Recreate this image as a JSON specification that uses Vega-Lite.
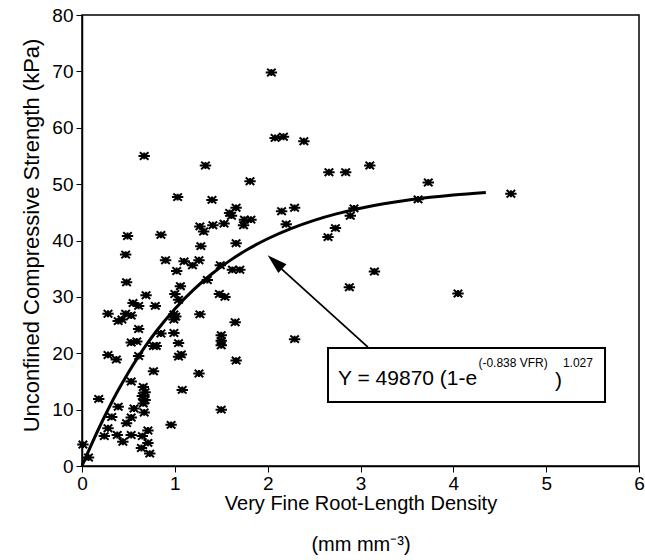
{
  "$schema": "https://vega.github.io/schema/vega-lite/v6.json",
  "width": 557,
  "height": 451,
  "autosize": "none",
  "padding": {"left": 82, "top": 15, "right": 6, "bottom": 94},
  "background": "white",
  "config": {
    "font": "Liberation Sans",
    "view": {"stroke": "black", "strokeWidth": 1.5},
    "axis": {
      "grid": false,
      "domainColor": "black",
      "domainWidth": 1.5,
      "tickColor": "black",
      "tickSize": 6,
      "labelColor": "black",
      "labelFontSize": 19,
      "titleColor": "black",
      "titleFontSize": 20,
      "titleFontWeight": "normal"
    }
  },
  "datasets": {
    "pts": [
      {"x": 2.04, "y": 69.8}, {"x": 2.08, "y": 58.2}, {"x": 2.17, "y": 58.4}, {"x": 2.39, "y": 57.6},
      {"x": 0.67, "y": 55.0}, {"x": 1.33, "y": 53.3}, {"x": 3.10, "y": 53.3}, {"x": 2.66, "y": 52.1},
      {"x": 2.84, "y": 52.1}, {"x": 1.81, "y": 50.5}, {"x": 3.73, "y": 50.3}, {"x": 4.62, "y": 48.3},
      {"x": 1.03, "y": 47.7}, {"x": 1.40, "y": 47.2}, {"x": 3.62, "y": 47.3}, {"x": 2.93, "y": 45.7},
      {"x": 2.29, "y": 45.8}, {"x": 2.15, "y": 45.2}, {"x": 2.89, "y": 44.4}, {"x": 1.66, "y": 45.8},
      {"x": 1.59, "y": 44.9}, {"x": 1.61, "y": 44.4}, {"x": 1.53, "y": 43.0}, {"x": 1.75, "y": 43.7},
      {"x": 1.82, "y": 43.7}, {"x": 1.74, "y": 42.7}, {"x": 1.41, "y": 42.7}, {"x": 1.27, "y": 42.5},
      {"x": 1.31, "y": 41.6}, {"x": 2.20, "y": 42.9}, {"x": 2.73, "y": 42.2}, {"x": 2.65, "y": 40.6},
      {"x": 0.49, "y": 40.8}, {"x": 0.85, "y": 41.0}, {"x": 1.28, "y": 39.0}, {"x": 1.66, "y": 39.5},
      {"x": 0.47, "y": 37.5}, {"x": 0.90, "y": 36.5}, {"x": 1.10, "y": 36.3}, {"x": 1.26, "y": 36.5},
      {"x": 1.19, "y": 35.6}, {"x": 1.02, "y": 34.6}, {"x": 1.49, "y": 35.6}, {"x": 1.62, "y": 34.8},
      {"x": 1.70, "y": 34.8}, {"x": 3.15, "y": 34.5}, {"x": 1.35, "y": 33.0}, {"x": 0.48, "y": 32.6},
      {"x": 1.06, "y": 31.9}, {"x": 2.88, "y": 31.7}, {"x": 1.00, "y": 30.5}, {"x": 0.69, "y": 30.3},
      {"x": 1.48, "y": 30.5}, {"x": 1.54, "y": 30.0}, {"x": 4.05, "y": 30.6}, {"x": 1.04, "y": 29.5},
      {"x": 0.55, "y": 28.9}, {"x": 0.61, "y": 28.4}, {"x": 0.79, "y": 28.4}, {"x": 0.28, "y": 27.0},
      {"x": 0.47, "y": 27.0}, {"x": 0.53, "y": 26.7}, {"x": 1.27, "y": 26.9}, {"x": 0.39, "y": 25.7},
      {"x": 0.43, "y": 26.0}, {"x": 0.99, "y": 26.9}, {"x": 1.01, "y": 26.5}, {"x": 0.99, "y": 26.0},
      {"x": 1.65, "y": 25.5}, {"x": 0.61, "y": 24.3}, {"x": 0.85, "y": 23.5}, {"x": 0.99, "y": 23.6},
      {"x": 1.50, "y": 23.2}, {"x": 1.50, "y": 22.2}, {"x": 2.29, "y": 22.5}, {"x": 0.53, "y": 21.9},
      {"x": 0.59, "y": 22.1}, {"x": 1.04, "y": 21.8}, {"x": 0.77, "y": 21.3}, {"x": 0.80, "y": 21.3},
      {"x": 1.50, "y": 21.4}, {"x": 0.28, "y": 19.7}, {"x": 0.37, "y": 18.9}, {"x": 0.61, "y": 19.5},
      {"x": 1.04, "y": 19.4}, {"x": 1.07, "y": 19.8}, {"x": 1.66, "y": 18.7}, {"x": 0.77, "y": 16.8},
      {"x": 1.26, "y": 16.4}, {"x": 0.53, "y": 15.0}, {"x": 0.18, "y": 11.9}, {"x": 0.66, "y": 14.0},
      {"x": 0.68, "y": 13.1}, {"x": 0.65, "y": 12.4}, {"x": 0.68, "y": 11.7}, {"x": 0.66, "y": 11.1},
      {"x": 1.08, "y": 13.5}, {"x": 0.39, "y": 10.5}, {"x": 0.56, "y": 10.2}, {"x": 1.50, "y": 10.0},
      {"x": 0.67, "y": 9.5}, {"x": 0.32, "y": 8.7}, {"x": 0.53, "y": 8.6}, {"x": 0.48, "y": 7.6},
      {"x": 0.96, "y": 7.3}, {"x": 0.28, "y": 6.7}, {"x": 0.71, "y": 6.3}, {"x": 0.24, "y": 5.3},
      {"x": 0.38, "y": 5.5}, {"x": 0.53, "y": 5.5}, {"x": 0.65, "y": 5.3}, {"x": 0.44, "y": 4.3},
      {"x": 0.71, "y": 4.1}, {"x": 0.01, "y": 3.8}, {"x": 0.64, "y": 3.2}, {"x": 0.73, "y": 2.2},
      {"x": 0.07, "y": 1.5}
    ],
    "curve": [
      {"x": 0.0, "y": 0.0}, {"x": 0.05, "y": 1.88}, {"x": 0.1, "y": 3.75}, {"x": 0.2, "y": 7.32},
      {"x": 0.3, "y": 10.65}, {"x": 0.4, "y": 13.73}, {"x": 0.5, "y": 16.59}, {"x": 0.6, "y": 19.22},
      {"x": 0.7, "y": 21.65}, {"x": 0.8, "y": 23.9}, {"x": 1.0, "y": 27.87}, {"x": 1.2, "y": 31.24},
      {"x": 1.4, "y": 34.1}, {"x": 1.6, "y": 36.52}, {"x": 1.8, "y": 38.57}, {"x": 2.0, "y": 40.31},
      {"x": 2.25, "y": 42.11}, {"x": 2.5, "y": 43.58}, {"x": 2.75, "y": 44.77}, {"x": 3.0, "y": 45.73},
      {"x": 3.25, "y": 46.51}, {"x": 3.5, "y": 47.15}, {"x": 3.75, "y": 47.66}, {"x": 4.0, "y": 48.08},
      {"x": 4.35, "y": 48.53}
    ],
    "arrow": [{"x": 3.08, "y": 21.1, "x2": 2.08, "y2": 36.0, "tx": 2.0, "ty": 37.4}],
    "box": [{"x": 2.65, "x2": 5.634, "y": 11.35, "y2": 20.93}],
    "labels": [
      {"x": 2.758, "y": 14.37, "t": "Y = 49870 (1-e", "fs": 21},
      {"x": 5.095, "y": 14.0, "t": ")", "fs": 21},
      {"x": 4.27, "y": 17.5, "t": "(-0.838 VFR)", "fs": 12},
      {"x": 5.18, "y": 17.6, "t": "1.027", "fs": 12}
    ]
  },
  "layer": [
    {
      "data": {"name": "box"},
      "mark": {"type": "rect", "fill": "white", "stroke": "black", "strokeWidth": 2},
      "encoding": {
        "x": {"field": "x", "type": "quantitative", "scale": {"domain": [0, 6], "nice": false},
          "axis": {"values": [0, 1, 2, 3, 4, 5, 6], "format": "d", "labelFlush": false, "labelPadding": 2,
            "title": ["Very Fine Root-Length Density", "(mm mm⁻³)"], "titleLineHeight": 41,
            "titleY": 37, "titleBaseline": "middle"}},
        "x2": {"field": "x2"},
        "y": {"field": "y", "type": "quantitative", "scale": {"domain": [0, 80], "nice": false},
          "axis": {"values": [0, 10, 20, 30, 40, 50, 60, 70, 80], "format": "d", "labelFlush": false, "labelPadding": 3,
            "title": "Unconfined Compressive Strength (kPa)", "titleFontSize": 22, "titleX": -51, "titleY": 220,
            "titleBaseline": "middle", "titleAlign": "center"}},
        "y2": {"field": "y2"}
      }
    },
    {
      "data": {"name": "pts"},
      "mark": {"type": "point", "shape": "M-1,0L1,0M-0.75,-0.65L0.75,0.65M-0.75,0.65L0.75,-0.65M0,-0.6L0,0.6",
        "size": 130, "filled": false, "stroke": "black", "strokeWidth": 2, "opacity": 1},
      "encoding": {
        "x": {"field": "x", "type": "quantitative"},
        "y": {"field": "y", "type": "quantitative"}
      }
    },
    {
      "data": {"name": "curve"},
      "mark": {"type": "line", "color": "black", "strokeWidth": 3, "interpolate": "monotone"},
      "encoding": {
        "x": {"field": "x", "type": "quantitative"},
        "y": {"field": "y", "type": "quantitative"}
      }
    },
    {
      "data": {"name": "arrow"},
      "mark": {"type": "rule", "color": "black", "strokeWidth": 1.8},
      "encoding": {
        "x": {"field": "x", "type": "quantitative"},
        "y": {"field": "y", "type": "quantitative"},
        "x2": {"field": "x2"},
        "y2": {"field": "y2"}
      }
    },
    {
      "data": {"name": "arrow"},
      "mark": {"type": "point", "shape": "M0,0L-0.6,2L0.6,2Z", "size": 400, "filled": true,
        "color": "black", "opacity": 1, "angle": 312.5},
      "encoding": {
        "x": {"field": "tx", "type": "quantitative"},
        "y": {"field": "ty", "type": "quantitative"}
      }
    },
    {
      "data": {"name": "labels"},
      "mark": {"type": "text", "align": "left", "baseline": "alphabetic", "color": "black"},
      "encoding": {
        "x": {"field": "x", "type": "quantitative"},
        "y": {"field": "y", "type": "quantitative"},
        "text": {"field": "t"},
        "size": {"field": "fs", "type": "quantitative", "scale": null}
      }
    }
  ]
}
